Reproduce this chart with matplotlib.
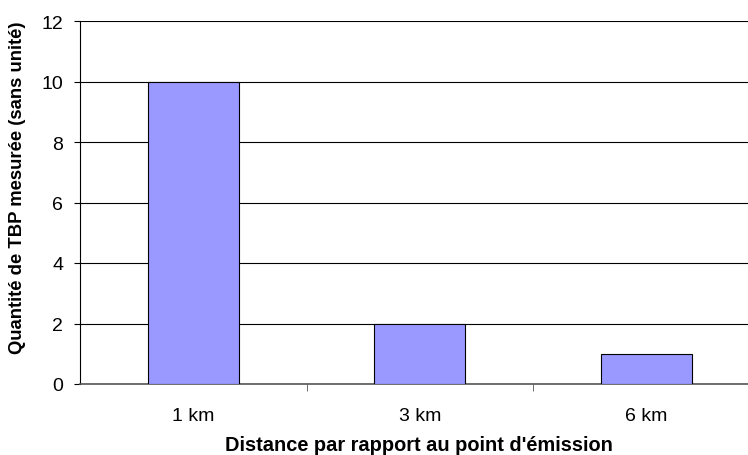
import matplotlib
matplotlib.use("Agg")
import matplotlib.pyplot as plt

categories = ["1 km", "3 km", "6 km"]
values = [10, 2, 1]

plt.rcParams['font.family'] = ['Liberation Sans', 'DejaVu Sans']

W, H = 748, 456
fig = plt.figure(figsize=(W / 100, H / 100), dpi=100)
left, right, top, bottom = 80, 759.5, 22, 385
ax = fig.add_axes([left / W, 1 - bottom / H, (right - left) / W, (bottom - top) / H])

x = range(len(categories))
ax.bar(x, values, width=0.40, color='#9999FF', edgecolor='black', linewidth=0.8, zorder=3)

ax.set_xlim(-0.5, len(categories) - 0.5)
ax.set_ylim(0, 12)
ax.set_yticks(range(0, 13, 2))
ax.set_xticks(list(x))
ax.set_xticklabels(categories, fontsize=14)
ax.set_xticks([0.5, 1.5, 2.5], minor=True)
ax.tick_params(axis='x', which='major', length=0, pad=16.5)
ax.tick_params(axis='x', which='minor', length=5, direction='out', color='#555555')
ax.tick_params(axis='y', length=4.5, direction='out', labelsize=14, pad=7.5)
ax.grid(axis='y', color='black', linewidth=0.8, zorder=0)

for s in ['top', 'right']:
    ax.spines[s].set_visible(False)
ax.spines['left'].set_color('black')
ax.spines['bottom'].set_color('#555555')
ax.spines['bottom'].set_linewidth(1.2)

ax.set_xlabel("Distance par rapport au point d'émission", fontsize=14.4, fontweight='bold', va='center')
ax.xaxis.set_label_coords((419 - left) / (right - left), (bottom - 446) / (bottom - top))
ax.set_ylabel("Quantité de TBP mesurée (sans unité)", fontsize=13.3, fontweight='bold', va='center')
ax.yaxis.set_label_coords((18 - left) / (right - left), (bottom - 188) / (bottom - top))

fig.savefig("out.png", dpi=100)
